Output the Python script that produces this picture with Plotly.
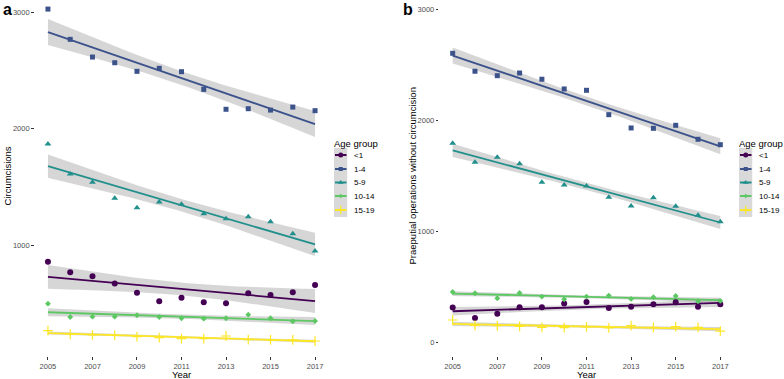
import numpy as np
import plotly.graph_objects as go

years = list(range(2005, 2018))
groups = ["<1", "1-4", "5-9", "10-14", "15-19"]
colors = ["#440154", "#3B528B", "#21908C", "#5DC863", "#FDE725"]
symbols = ["circle", "square", "triangle-up", "diamond", "cross-thin"]
msizes = [6, 5, 6, 4.5, 7]

# Panel a: circumcisions
circ_lt1 = [857, 766, 732, 669, 591, 517, 548, 509, 500, 586, 571, 594, 657]
circ_1_4 = [3028, 2768, 2616, 2567, 2493, 2519, 2490, 2338, 2167, 2172, 2160, 2186, 2155]
circ_5_9 = [1869, 1610, 1540, 1402, 1321, 1370, 1350, 1270, 1227, 1244, 1201, 1098, 949]
circ_10_14 = [497, 382, 385, 385, 397, 382, 371, 368, 371, 402, 371, 345, 348]
circ_15_19 = [265, 234, 228, 225, 213, 205, 196, 196, 219, 187, 185, 185, 176]

# Panel b: praeputial operations without circumcision
prae_lt1 = [313, 219, 258, 316, 316, 349, 364, 310, 321, 343, 361, 321, 343]
prae_1_4 = [2608, 2446, 2406, 2430, 2374, 2286, 2274, 2054, 1934, 1931, 1958, 1832, 1783]
prae_5_9 = [1796, 1625, 1670, 1612, 1444, 1420, 1411, 1309, 1230, 1305, 1227, 1146, 1088]
prae_10_14 = [454, 442, 397, 445, 412, 388, 412, 421, 391, 406, 418, 370, 373]
prae_15_19 = [201, 153, 149, 144, 135, 132, 138, 129, 150, 135, 141, 135, 100]

x_ticks = [2005, 2007, 2009, 2011, 2013, 2015, 2017]
left_yticks = [1000, 2000, 3000]
right_yticks = [0, 1000, 2000, 3000]

W, H, B = 784, 379, 23
PH = H - B  # plot-area height in px


def px(x):
    return x / W


def py(y):
    return (PH - y) / PH


panels = [
    ([circ_lt1, circ_1_4, circ_5_9, circ_10_14, circ_15_19], "x", "y"),
    ([prae_lt1, prae_1_4, prae_5_9, prae_10_14, prae_15_19], "x2", "y2"),
]

fig = go.Figure()
T_CRIT = 2.201  # t(0.975, df=11)


def lm_fit(xs, ys):
    xs = np.asarray(xs, float)
    ys = np.asarray(ys, float)
    b, a = np.polyfit(xs, ys, 1)
    resid = ys - (a + b * xs)
    n = len(xs)
    s = np.sqrt((resid ** 2).sum() / (n - 2))
    xbar = xs.mean()
    sxx = ((xs - xbar) ** 2).sum()
    xg = np.linspace(xs.min(), xs.max(), 60)
    yg = a + b * xg
    se = s * np.sqrt(1.0 / n + (xg - xbar) ** 2 / sxx)
    return xg, yg, yg - T_CRIT * se, yg + T_CRIT * se


for series, xa, ya in panels:
    fits = [lm_fit(years, s) for s in series]
    for (xg, yg, lo, hi) in fits:
        fig.add_trace(go.Scatter(
            x=np.concatenate([xg, xg[::-1]]), y=np.concatenate([hi, lo[::-1]]),
            fill="toself", fillcolor="rgba(153,153,153,0.4)", line=dict(width=0),
            mode="lines", hoverinfo="skip", showlegend=False, xaxis=xa, yaxis=ya))
    for i, (xg, yg, lo, hi) in enumerate(fits):
        fig.add_trace(go.Scatter(
            x=xg, y=yg, mode="lines", line=dict(color=colors[i], width=1.8),
            showlegend=False, xaxis=xa, yaxis=ya))
    for i, s in enumerate(series):
        fig.add_trace(go.Scatter(
            x=years, y=s, mode="markers",
            marker=dict(color=colors[i], symbol=symbols[i], size=msizes[i],
                        line=dict(color=colors[i], width=1.2 if i == 4 else 0)),
            showlegend=False, xaxis=xa, yaxis=ya, cliponaxis=False))

# Manual legends: key columns drawn in small pixel-mapped subplots
leg_y = [155, 169, 182.5, 196, 210]
KEY_W = 13.5
for k, (kx0, tx, xa, ya) in enumerate([(334, 351.5, "x3", "y3"), (739, 756.5, "x4", "y4")]):
    fig.add_trace(go.Scatter(
        x=[kx0, kx0 + KEY_W, kx0 + KEY_W, kx0, kx0], y=[148, 148, 217, 217, 148],
        fill="toself", fillcolor="#D9D9D9", line=dict(width=0), mode="lines",
        hoverinfo="skip", showlegend=False, xaxis=xa, yaxis=ya))
    fig.add_annotation(x=px(kx0 - 2), y=py(143), xref="paper", yref="paper",
                       text="Age group", showarrow=False, xanchor="left",
                       yanchor="middle", font=dict(size=9.5, color="black"))
    for i, g in enumerate(groups):
        fig.add_trace(go.Scatter(
            x=[kx0 + 1, kx0 + KEY_W - 1], y=[leg_y[i]] * 2, mode="lines",
            line=dict(color=colors[i], width=1.8), showlegend=False,
            xaxis=xa, yaxis=ya, hoverinfo="skip"))
        fig.add_trace(go.Scatter(
            x=[kx0 + KEY_W / 2], y=[leg_y[i]], mode="markers",
            marker=dict(color=colors[i], symbol=symbols[i], size=msizes[i] - 1,
                        line=dict(color=colors[i], width=1.2 if i == 4 else 0)),
            showlegend=False, xaxis=xa, yaxis=ya, hoverinfo="skip", cliponaxis=False))
        fig.add_annotation(x=px(tx), y=py(leg_y[i]), xref="paper", yref="paper", text=g,
                           showarrow=False, xanchor="left", yanchor="middle",
                           font=dict(size=8, color="black"))

# Panel labels
fig.add_annotation(x=px(1), y=py(10), xref="paper", yref="paper", text="<b>a</b>",
                   showarrow=False, xanchor="left", yanchor="middle",
                   font=dict(size=16, color="black"))
fig.add_annotation(x=px(401), y=py(10), xref="paper", yref="paper", text="<b>b</b>",
                   showarrow=False, xanchor="left", yanchor="middle",
                   font=dict(size=16, color="black"))

# Axis titles
for cx in [181.5, 586.5]:
    fig.add_annotation(x=px(cx), y=py(374.5), xref="paper", yref="paper", text="Year",
                       showarrow=False, xanchor="center", yanchor="middle",
                       font=dict(size=9.5, color="black"))
fig.add_annotation(x=px(6.5), y=py(176), xref="paper", yref="paper", text="Circumcisions",
                   textangle=-90, showarrow=False, xanchor="center", yanchor="middle",
                   font=dict(size=9.5, color="black"))
fig.add_annotation(x=px(411.5), y=py(176), xref="paper", yref="paper",
                   text="Praeputial operations without circumcision",
                   textangle=-90, showarrow=False, xanchor="center", yanchor="middle",
                   font=dict(size=9.5, color="black"))

tickfont = dict(size=7.5, color="#4D4D4D")
axis_common = dict(showgrid=False, zeroline=False, showline=False, ticks="outside",
                   ticklen=2.5, tickcolor="#333333", tickwidth=1, tickfont=tickfont,
                   automargin=False, fixedrange=True)
hidden = dict(visible=False, fixedrange=True, automargin=False)

fig.update_layout(
    width=W, height=H,
    margin=dict(l=0, r=0, t=0, b=B, pad=0),
    paper_bgcolor="white", plot_bgcolor="white",
    font=dict(family="Liberation Sans, Arial, sans-serif", color="black"),
    showlegend=False,
    xaxis=dict(domain=[px(34.6), px(328.4)], range=[2004.4, 2017.6],
               tickvals=x_ticks, ticktext=[str(v) for v in x_ticks], anchor="y",
               **axis_common),
    yaxis=dict(domain=[0, 1], range=[47, 3106], tickvals=left_yticks, anchor="x",
               **axis_common),
    xaxis2=dict(domain=[px(439.3), px(733.7)], range=[2004.4, 2017.6],
                tickvals=x_ticks, ticktext=[str(v) for v in x_ticks], anchor="y2",
                **axis_common),
    yaxis2=dict(domain=[0, 1], range=[-124, 3089], tickvals=right_yticks, anchor="x2",
                **axis_common),
    xaxis3=dict(domain=[px(334), px(334 + KEY_W)], range=[334, 334 + KEY_W], anchor="y3", **hidden),
    yaxis3=dict(domain=[py(217), py(148)], range=[217, 148], anchor="x3", **hidden),
    xaxis4=dict(domain=[px(739), px(739 + KEY_W)], range=[739, 739 + KEY_W], anchor="y4", **hidden),
    yaxis4=dict(domain=[py(217), py(148)], range=[217, 148], anchor="x4", **hidden),
)

fig.write_html("out.html", config={"displayModeBar": False, "staticPlot": True},
               post_script="document.body.style.margin='0';document.body.style.overflow='hidden';")
